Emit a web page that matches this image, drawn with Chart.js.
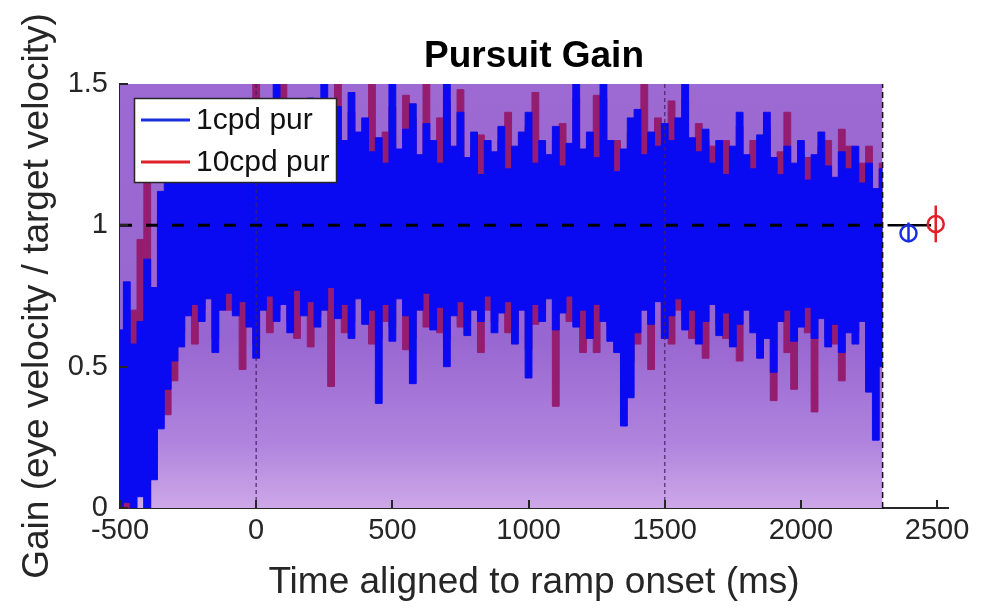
<!DOCTYPE html>
<html>
<head>
<meta charset="utf-8">
<script src="https://cdn.jsdelivr.net/npm/chart.js@4.4.1/dist/chart.umd.min.js"></script>
<style>
  html, body { margin: 0; padding: 0; background: #fff; }
</style>
</head>
<body>
<canvas id="c" width="981" height="611"></canvas>
<script>
// time bins (ms, aligned to ramp onset)
const timeMs = [
  -500, -475, -450, -425, -400, -375, -350, -325, -300, -275,
  -250, -225, -200, -175, -150, -125, -100, -75, -50, -25,
  0, 25, 50, 75, 100, 125, 150, 175, 200, 225,
  250, 275, 300, 325, 350, 375, 400, 425, 450, 475,
  500, 525, 550, 575, 600, 625, 650, 675, 700, 725,
  750, 775, 800, 825, 850, 875, 900, 925, 950, 975,
  1000, 1025, 1050, 1075, 1100, 1125, 1150, 1175, 1200, 1225,
  1250, 1275, 1300, 1325, 1350, 1375, 1400, 1425, 1450, 1475,
  1500, 1525, 1550, 1575, 1600, 1625, 1650, 1675, 1700, 1725,
  1750, 1775, 1800, 1825, 1850, 1875, 1900, 1925, 1950, 1975,
  2000, 2025, 2050, 2075, 2100, 2125, 2150, 2175, 2200, 2225,
  2250, 2275, 2300
];

// 1cpd pursuit trace: upper / lower extent per bin
const blueHi = [
  0.63, 0.80, 0.58, 0.66, 0.88, 0.78, 1.12, 1.20, 1.18, 1.25,
  1.22, 1.30, 1.26, 1.33, 1.24, 1.30, 1.28, 1.35, 1.27, 1.32,
  1.29, 1.36, 1.30, 1.50, 1.34, 1.28, 1.38, 1.31, 1.45, 1.33,
  1.50, 1.36, 1.42, 1.30, 1.47, 1.33, 1.38, 1.26, 1.31, 1.22,
  1.50, 1.27, 1.34, 1.43, 1.25, 1.36, 1.30, 1.22, 1.50, 1.28,
  1.40, 1.24, 1.33, 1.18, 1.30, 1.26, 1.35, 1.20, 1.28, 1.33,
  1.40, 1.22, 1.30, 1.25, 1.35, 1.21, 1.29, 1.50, 1.27, 1.33,
  1.24, 1.50, 1.30, 1.19, 1.27, 1.38, 1.41, 1.25, 1.33, 1.28,
  1.36, 1.30, 1.38, 1.50, 1.31, 1.26, 1.34, 1.22, 1.30, 1.18,
  1.28, 1.40, 1.25, 1.20, 1.32, 1.40, 1.24, 1.18, 1.28, 1.22,
  1.30, 1.16, 1.25, 1.33, 1.21, 1.17, 1.26, 1.20, 1.28, 1.15,
  1.22, 1.13, 1.20
];
const blueLo = [
  0.00, 0.02, 0.00, 0.04, 0.00, 0.10, 0.28, 0.42, 0.52, 0.57,
  0.68, 0.72, 0.66, 0.74, 0.55, 0.70, 0.76, 0.68, 0.73, 0.64,
  0.53, 0.70, 0.75, 0.66, 0.72, 0.62, 0.77, 0.68, 0.73, 0.64,
  0.70, 0.78, 0.67, 0.72, 0.60, 0.74, 0.65, 0.70, 0.37, 0.72,
  0.59, 0.74, 0.68, 0.44, 0.70, 0.76, 0.63, 0.71, 0.50, 0.68,
  0.73, 0.61, 0.70, 0.66, 0.75, 0.62, 0.69, 0.73, 0.58, 0.70,
  0.46, 0.72, 0.66, 0.74, 0.63, 0.69, 0.75, 0.64, 0.70, 0.60,
  0.72, 0.66, 0.59, 0.55, 0.29, 0.39, 0.62, 0.70, 0.65, 0.73,
  0.60, 0.68, 0.74, 0.63, 0.70, 0.58, 0.66, 0.72, 0.61, 0.69,
  0.57, 0.65, 0.70, 0.62, 0.53, 0.60, 0.48, 0.66, 0.70, 0.59,
  0.64, 0.71, 0.60, 0.67, 0.57, 0.65, 0.55, 0.62, 0.58, 0.66,
  0.41, 0.24, 0.50
];

// 10cpd pursuit trace: upper / lower extent per bin
const redHi = [
  0.55, 0.60, 0.70, 0.95, 1.20, 0.75, 1.05, 1.10, 1.30, 1.15,
  1.15, 1.25, 1.40, 1.28, 1.20, 1.42, 1.22, 1.30, 1.38, 1.25,
  1.50, 1.30, 1.25, 1.40, 1.50, 1.22, 1.33, 1.25, 1.40, 1.42,
  1.40, 1.30, 1.50, 1.25, 1.40, 1.28, 1.32, 1.50, 1.26, 1.33,
  1.42, 1.22, 1.46, 1.38, 1.20, 1.50, 1.25, 1.38, 1.44, 1.22,
  1.48, 1.20, 1.28, 1.32, 1.25, 1.22, 1.30, 1.40, 1.24, 1.28,
  1.35, 1.47, 1.26, 1.20, 1.30, 1.36, 1.24, 1.45, 1.22, 1.28,
  1.46, 1.45, 1.26, 1.30, 1.22, 1.33, 1.36, 1.50, 1.28, 1.38,
  1.30, 1.44, 1.33, 1.45, 1.26, 1.36, 1.30, 1.28, 1.25, 1.30,
  1.24, 1.35, 1.20, 1.30, 1.27, 1.35, 1.20, 1.26, 1.40, 1.18,
  1.25, 1.24, 1.20, 1.28, 1.30, 1.12, 1.34, 1.28, 1.22, 1.22,
  1.28, 1.10, 1.22
];
const redLo = [
  0.05, 0.00, 0.10, 0.20, 0.00, 0.30, 0.35, 0.33, 0.45, 0.62,
  0.72, 0.58, 0.70, 0.78, 0.60, 0.74, 0.70, 0.72, 0.49, 0.68,
  0.58, 0.74, 0.62, 0.70, 0.76, 0.66, 0.60, 0.72, 0.57, 0.68,
  0.74, 0.43, 0.70, 0.62, 0.66, 0.78, 0.70, 0.58, 0.60, 0.66,
  0.64, 0.78, 0.56, 0.60, 0.74, 0.64, 0.68, 0.62, 0.60, 0.72,
  0.64, 0.66, 0.74, 0.55, 0.70, 0.66, 0.72, 0.62, 0.63, 0.74,
  0.56, 0.65, 0.70, 0.78, 0.36, 0.72, 0.66, 0.68, 0.55, 0.66,
  0.55, 0.70, 0.64, 0.60, 0.50, 0.52, 0.58, 0.74, 0.49, 0.76,
  0.64, 0.58, 0.70, 0.67, 0.60, 0.62, 0.53, 0.76, 0.65, 0.60,
  0.62, 0.52, 0.74, 0.66, 0.58, 0.64, 0.38, 0.70, 0.55, 0.42,
  0.68, 0.62, 0.34, 0.70, 0.60, 0.58, 0.45, 0.66, 0.62, 0.70,
  0.52, 0.56, 0.62
];

// shaded error band (clipped at the axis top)
const shadeTime = [-500, 2300];
const shadeTop = [1.5, 1.5];

// steady-state mean gain +/- error, plotted right of the traces
const meanTime = [2395, 2495];
const meanGain = [0.972, 1.005];
const meanLo = [0.94, 0.94];
const meanHi = [1.01, 1.07];

// reference markers
const unityTime = [-500, 2300];
const eventTimes = [0, 1500];
const endTime = 2300;

const xTickValues = [-500, 0, 500, 1000, 1500, 2000, 2500];
const yTickValues = [0, 0.5, 1, 1.5];

const FONT = "'Liberation Sans', Arial, Helvetica, sans-serif";
const AXIS = '#262626';
const BLUE = '#0a0af2';
const RED_TRACE = '#951d70';
const BLUE_MARK = '#1a2ee0';
const RED_MARK = '#e0202a';

function xy(xs, ys) {
    return xs.map((x, i) => ({ x: x, y: ys[i] }));
}

function shadeGradient(context) {
    const { chart } = context;
    const a = chart.chartArea;
    if (!a) return 'rgb(155, 105, 210)';
    const g = chart.ctx.createLinearGradient(0, a.top, 0, a.bottom);
    g.addColorStop(0, 'rgb(156, 106, 210)');
    g.addColorStop(0.6, 'rgb(152, 102, 208)');
    g.addColorStop(0.85, 'rgb(176, 132, 222)');
    g.addColorStop(1, 'rgb(205, 168, 232)');
    return g;
}

const base = { pointRadius: 0, borderWidth: 0, fill: false };

const datasets = [
    { ...base, data: xy(shadeTime, shadeTop), backgroundColor: shadeGradient, fill: 'origin', order: 10 },
    { ...base, data: xy(timeMs, redHi), borderColor: RED_TRACE, borderWidth: 1, backgroundColor: RED_TRACE, fill: '+1', stepped: 'middle', order: 9 },
    { ...base, data: xy(timeMs, redLo), borderColor: RED_TRACE, borderWidth: 1, stepped: 'middle', order: 9 },
    { ...base, data: xy(timeMs, blueHi), borderColor: BLUE, borderWidth: 1, backgroundColor: BLUE, fill: '+1', stepped: 'middle', order: 8 },
    { ...base, data: xy(timeMs, blueLo), borderColor: BLUE, borderWidth: 1, stepped: 'middle', order: 8 },
    { ...base, data: xy(unityTime, [1, 1]), borderColor: '#000', borderWidth: 3, borderDash: [12, 14], order: 3 },
    { ...base, data: xy([2318, 2478], [1, 1]), borderColor: '#000', borderWidth: 2.5, order: 3 }
];

eventTimes.forEach((t) => {
    datasets.push({ ...base, data: xy([t, t], [0, 1.5]), borderColor: 'rgba(70, 30, 100, 0.75)', borderWidth: 1.5, borderDash: [4, 3], order: 4 });
});
datasets.push({ ...base, data: xy([endTime, endTime], [0, 1.5]), borderColor: '#111', borderWidth: 1.5, borderDash: [6, 4], order: 2 });

const markColors = [BLUE_MARK, RED_MARK];
meanTime.forEach((t, i) => {
    datasets.push({ ...base, data: xy([t, t], [meanLo[i], meanHi[i]]), borderColor: markColors[i], borderWidth: 2.5, order: 1 });
    datasets.push({
        ...base,
        data: [{ x: t, y: meanGain[i] }],
        showLine: false,
        pointRadius: 8,
        pointStyle: 'circle',
        pointBorderWidth: 2.5,
        pointBorderColor: markColors[i],
        pointBackgroundColor: 'rgba(0,0,0,0)',
        order: 0
    });
});

const legendItems = [
    { label: '1cpd pur', color: BLUE_MARK },
    { label: '10cpd pur', color: RED_MARK }
];

// MATLAB-style inward tick marks
const innerTicks = {
    id: 'innerTicks',
    afterDraw(chart) {
        const { ctx, chartArea: a, scales } = chart;
        ctx.save();
        ctx.strokeStyle = AXIS;
        ctx.lineWidth = 2;
        ctx.beginPath();
        xTickValues.forEach((v) => {
            const px = Math.round(scales.x.getPixelForValue(v));
            ctx.moveTo(px, a.bottom);
            ctx.lineTo(px, a.bottom - 8);
        });
        yTickValues.forEach((v) => {
            const py = Math.round(scales.y.getPixelForValue(v));
            ctx.moveTo(a.left, py);
            ctx.lineTo(a.left + 8, py);
        });
        ctx.stroke();
        ctx.restore();
    }
};

// legend box in the upper-left corner of the axes
const insetLegend = {
    id: 'insetLegend',
    afterDraw(chart) {
        const { ctx, chartArea: a } = chart;
        const x0 = a.left + 14;
        const y0 = a.top + 14;
        const w = 202;
        const h = 84;
        ctx.save();
        ctx.fillStyle = '#fff';
        ctx.fillRect(x0, y0, w, h);
        ctx.strokeStyle = AXIS;
        ctx.lineWidth = 1.5;
        ctx.strokeRect(x0 + 0.5, y0 + 0.5, w, h);
        ctx.font = '30px ' + FONT;
        ctx.textBaseline = 'middle';
        legendItems.forEach((it, i) => {
            const y = y0 + 22 + i * 42;
            ctx.strokeStyle = it.color;
            ctx.lineWidth = 3;
            ctx.beginPath();
            ctx.moveTo(x0 + 7, y);
            ctx.lineTo(x0 + 56, y);
            ctx.stroke();
            ctx.fillStyle = '#111';
            ctx.fillText(it.label, x0 + 62, y + 1);
        });
        ctx.restore();
    }
};

new Chart(document.getElementById('c'), {
    type: 'line',
    data: { datasets: datasets },
    options: {
        responsive: false,
        animation: false,
        events: [],
        layout: { padding: { left: 0, right: 33, top: 0, bottom: 0 } },
        plugins: {
            legend: { display: false },
            tooltip: { enabled: false },
            title: {
                display: true,
                fullSize: false,
                text: 'Pursuit Gain',
                color: '#000',
                font: { family: FONT, size: 37, weight: 'bold' },
                padding: { top: 35, bottom: 4.6 }
            }
        },
        scales: {
            x: {
                type: 'linear',
                min: -500,
                max: 2540,
                z: 1,
                afterBuildTicks(s) { s.ticks = xTickValues.map((v) => ({ value: v })); },
                afterFit(s) { s.height = 103; },
                ticks: {
                    color: AXIS,
                    font: { family: FONT, size: 29 },
                    padding: 6,
                    maxRotation: 0,
                    autoSkip: false,
                    callback: (v) => String(v)
                },
                grid: { display: false, drawTicks: false },
                border: { display: true, color: AXIS, width: 2 },
                title: {
                    display: true,
                    text: 'Time aligned to ramp onset (ms)',
                    color: AXIS,
                    font: { family: FONT, size: 37 },
                    padding: { top: 0, bottom: 6 }
                }
            },
            y: {
                min: 0,
                max: 1.5,
                z: 1,
                afterBuildTicks(s) { s.ticks = yTickValues.map((v) => ({ value: v })); },
                afterFit(s) { s.width = 120; },
                ticks: {
                    color: AXIS,
                    font: { family: FONT, size: 29 },
                    padding: 12,
                    callback: (v) => String(v)
                },
                grid: { display: false, drawTicks: false },
                border: { display: true, color: AXIS, width: 2 },
                title: {
                    display: true,
                    text: 'Gain (eye velocity / target velocity)',
                    color: AXIS,
                    font: { family: FONT, size: 37 },
                    padding: { top: 16, bottom: 0 }
                }
            }
        }
    },
    plugins: [innerTicks, insetLegend]
});
</script>
</body>
</html>
